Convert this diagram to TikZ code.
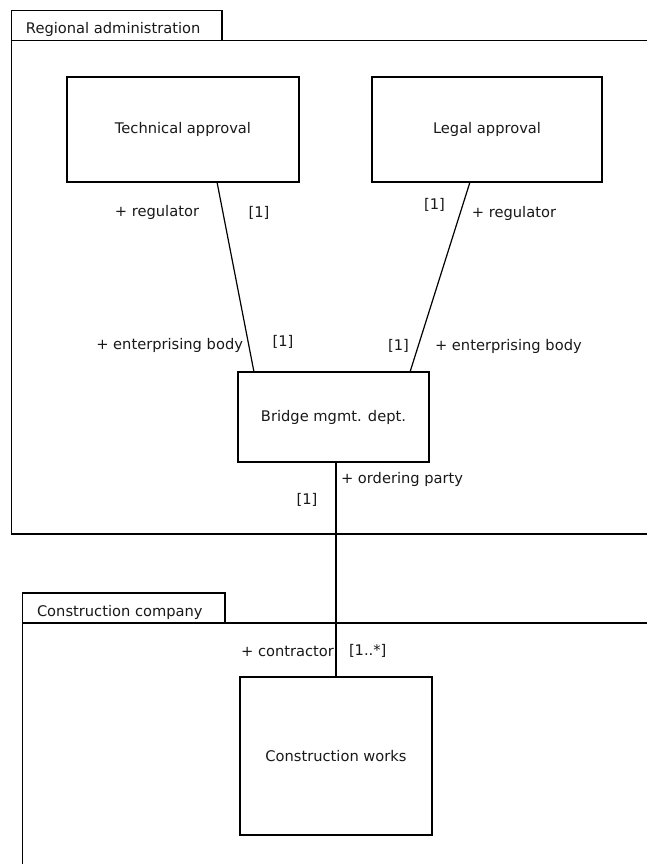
\documentclass[tikz,border=0pt]{standalone}
\usepackage{fontspec}
\setmainfont{DejaVu Sans}
\begin{document}
\begin{tikzpicture}[x=0.75pt,y=-0.75pt,
  line width=0.9pt,
  every node/.style={font=\fontsize{11pt}{13pt}\selectfont, inner sep=0pt, outer sep=0pt, text=black!90},
  box/.style={draw, rectangle, line width=0.9pt},
  lbl/.style={}]
\useasboundingbox (0,0) rectangle (647,864);
\fill[white] (0,0) rectangle (647,864);
% Regional administration frame
\draw (11.7,40.7) rectangle (222,10.7);
\draw (647,40.7) -- (11.7,40.7) -- (11.7,534) -- (647,534);
\node[anchor=west] (ratitle) at (26,29) {Regional administration};
% Construction company frame
\draw (22.7,623) rectangle (225,593);
\draw (647,623) -- (22.7,623) -- (22.7,864);
\node[anchor=west] (cctitle) at (37,612) {Construction company};
% classes
\node[box, minimum width=232*0.75pt, minimum height=105*0.75pt] (tech) at (183,129.5) {Technical approval};
\node[box, minimum width=230*0.75pt, minimum height=105*0.75pt] (legal) at (487,129.5) {Legal approval};
\node[box, minimum width=191*0.75pt, minimum height=90*0.75pt] (bridge) at (333.5,417) {Bridge mgmt. dept.};
\node[box, minimum width=192*0.75pt, minimum height=158*0.75pt] (works) at (336,756) {Construction works};
% associations
\draw ([xshift=34*0.75pt]tech.south) -- ([xshift=-79.5*0.75pt]bridge.north);
\draw ([xshift=-17*0.75pt]legal.south) -- ([xshift=76.5*0.75pt]bridge.north);
\draw ([xshift=2.5*0.75pt]bridge.south) -- (works.north);
% role and multiplicity labels
\node (reg1) at (157,212) {+ regulator};
\node (m1) at (259,213) {[1]};
\node (m2) at (434.5,205) {[1]};
\node (reg2) at (514,213) {+ regulator};
\node[anchor=east] (eb1) at (243,345) {+ enterprising body};
\node (m3) at (283,342) {[1]};
\node (m4) at (398.5,346) {[1]};
\node[anchor=west] (eb2) at (435,346) {+ enterprising body};
\node[anchor=west] (op) at (341,479) {+ ordering party};
\node (m5) at (307,500) {[1]};
\node[anchor=east] (con) at (334,651) {+ contractor};
\node[anchor=west] (m6) at (349,651) {[1..*]};
\end{tikzpicture}
\end{document}
